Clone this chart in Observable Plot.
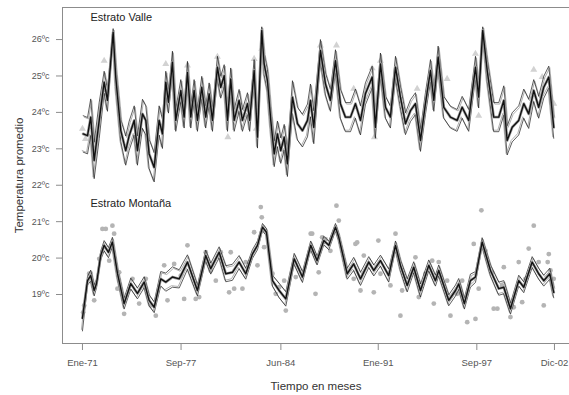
<!DOCTYPE html>
<html><head><meta charset="utf-8">
<script src="https://cdn.jsdelivr.net/npm/d3@7"></script>
<script src="https://cdn.jsdelivr.net/npm/@observablehq/plot@0.6"></script>
<style>
body{margin:0;background:#fff;}
#chart{width:569px;height:395px;}
svg{font-family:"Liberation Sans",Arial,sans-serif;}
</style></head><body><div id="chart"></div>
<script>
// months since Jan 1971
const xTickMonths = [0, 80, 161, 240, 320, 383];
const xTickLabels = ["Ene-71", "Sep-77", "Jun-84", "Ene-91", "Sep-97", "Dic-02"];
const yTicks = [19, 20, 21, 22, 23, 24, 25, 26];
const strataLabels = ["Estrato Valle", "Estrato Montaña"];
const xTitle = "Tiempo en meses";
const yTitle = "Temperatura promedio";

// Estrato Valle: smoothed estimate and its bounds
const valleMonths = [0.6,4.1,6.7,9.5,13.6,17.6,20.3,24.9,27.0,31.1,
35.1,37.9,42.0,44.6,48.7,51.4,54.1,58.2,62.2,64.9,
67.6,69.8,73.0,75.7,79.8,82.5,85.2,87.9,90.6,93.3,
96.8,100.0,102.8,105.5,109.5,112.2,115.0,117.7,120.3,123.1,
127.1,129.8,133.9,135.7,139.3,142.0,145.5,147.4,150.1,152.8,
155.6,158.2,160.9,163.7,166.3,170.4,174.5,178.5,182.6,185.0,
187.7,193.1,197.2,201.2,205.3,209.3,213.4,217.5,221.5,225.6,
229.6,235.1,237.7,241.8,245.9,249.9,254.0,258.0,262.1,266.2,
270.2,274.3,278.3,282.4,285.1,288.6,293.2,298.6,304.0,308.1,
313.4,318.9,321.5,324.8,328.4,333.7,337.8,341.9,344.6,348.7,
354.0,358.1,362.1,366.2,370.2,374.3,378.4,382.4];
const valleMean = [23.41,23.36,23.87,22.68,23.78,24.83,24.33,26.20,24.97,23.50,
22.95,23.36,23.78,22.95,23.96,23.78,22.86,22.49,23.78,23.41,
24.83,24.28,25.38,23.78,24.60,23.87,25.10,23.87,24.60,23.78,
24.69,23.87,24.51,23.78,25.24,24.69,25.01,23.78,24.92,23.78,
24.33,23.78,24.24,23.78,25.15,23.32,26.25,25.33,24.87,23.78,
22.86,23.41,22.95,23.32,22.59,24.42,23.69,23.50,23.78,24.33,
23.59,25.70,24.78,24.33,25.42,24.24,23.87,23.87,24.24,23.78,
24.51,24.97,23.59,25.33,24.14,23.87,25.24,24.42,23.69,24.05,
24.24,23.23,24.24,25.15,24.33,25.52,24.14,23.87,23.78,24.14,
23.78,25.24,24.42,26.25,25.15,23.87,23.87,24.33,23.23,23.59,
23.78,24.24,23.96,24.60,24.14,24.69,24.97,23.59];
const valleHigh = [23.91,23.86,24.37,23.18,24.28,25.13,24.63,26.30,25.27,23.80,
23.35,23.76,24.18,23.35,24.36,24.18,23.26,22.89,24.18,23.81,
25.13,24.58,25.68,24.08,24.90,24.17,25.40,24.17,24.90,24.08,
24.99,24.17,24.81,24.08,25.54,24.99,25.31,24.08,25.22,24.08,
24.63,24.08,24.54,24.08,25.45,23.62,26.35,25.63,25.17,24.08,
23.21,23.76,23.30,23.67,22.94,24.87,24.14,23.95,24.23,24.78,
24.04,26.00,25.08,24.63,25.72,24.64,24.27,24.27,24.64,24.18,
24.81,25.27,23.89,25.63,24.44,24.17,25.54,24.72,23.99,24.35,
24.54,23.53,24.54,25.45,24.63,25.82,24.44,24.17,24.08,24.44,
24.08,25.54,24.72,26.35,25.45,24.27,24.27,24.73,23.63,23.99,
24.18,24.64,24.36,24.90,24.44,24.99,25.27,23.89];
const valleLow = [22.91,22.86,23.37,22.18,23.28,24.53,24.03,26.10,24.67,23.20,
22.55,22.96,23.38,22.55,23.56,23.38,22.46,22.09,23.38,23.01,
24.53,23.98,25.08,23.48,24.30,23.57,24.80,23.57,24.30,23.48,
24.39,23.57,24.21,23.48,24.94,24.39,24.71,23.48,24.62,23.48,
24.03,23.48,23.94,23.48,24.85,23.02,26.15,25.03,24.57,23.48,
22.51,23.06,22.60,22.97,22.24,23.97,23.24,23.05,23.33,23.88,
23.14,25.40,24.48,24.03,25.12,23.84,23.47,23.47,23.84,23.38,
24.21,24.67,23.29,25.03,23.84,23.57,24.94,24.12,23.39,23.75,
23.94,22.93,23.94,24.85,24.03,25.22,23.84,23.57,23.48,23.84,
23.48,24.94,24.12,26.15,24.85,23.47,23.47,23.93,22.83,23.19,
23.38,23.84,23.56,24.30,23.84,24.39,24.67,23.29];
// Estrato Valle observations (triangles)
const valleObsMonths = [0,2.4,17.6,67.6,85.2,109.5,118.0,139.3,141.0,145.5,193.1,206.1,220.1,235.1,236.9,241.8,255.0,271.6,295.9,318.9,321.5,366.2,373.0,382.4];
const valleObsValues = [23.55,23.27,25.42,25.33,25.29,25.53,23.32,25.47,23.55,25.75,25.84,25.84,24.65,25.21,23.32,25.42,24.97,24.65,24.92,25.61,23.91,25.17,24.97,24.24];

// Estrato Montaña: smoothed estimate and its bounds
const montanaMonths = [0,4.1,6.7,9.5,11.4,14.8,17.6,21.1,24.3,28.4,
33.8,39.2,44.6,50.1,54.1,58.2,63.5,67.6,73.0,78.5,
85.2,93.3,100.0,104.1,110.9,116.3,121.7,127.1,132.5,137.9,
142.0,146.1,149.3,154.2,159.6,165.0,171.8,178.5,185.2,190.4,
195.8,199.9,205.3,208.0,214.8,220.1,225.6,232.3,236.4,241.8,
248.5,254.0,258.0,263.5,268.8,274.3,281.0,286.4,289.1,297.2,
302.7,305.3,309.9,314.8,318.9,324.3,331.1,337.8,341.9,347.3,
354.0,358.1,364.9,370.2,374.3,379.2,382.4];
const montanaMean = [18.35,19.38,19.52,19.11,19.30,20.07,20.35,20.16,20.44,19.58,
18.75,19.30,19.03,19.34,18.84,18.65,19.43,19.34,19.48,19.43,
19.89,19.11,20.07,19.71,20.16,19.57,19.61,19.89,19.57,20.11,
20.35,20.85,20.71,19.38,19.11,18.88,19.98,19.48,20.35,19.93,
20.48,20.35,20.85,20.57,19.57,19.84,19.43,19.89,19.66,19.93,
19.52,20.35,19.80,19.25,19.75,19.11,19.80,19.38,19.66,18.84,
19.11,19.29,18.75,19.38,19.48,20.44,19.66,19.16,19.20,18.61,
19.38,19.20,19.89,19.57,19.38,19.57,19.06];
const montanaHigh = [18.45,19.50,19.67,19.26,19.42,20.19,20.48,20.29,20.57,19.73,
18.90,19.45,19.18,19.49,18.99,18.80,19.63,19.59,19.76,19.68,
20.09,19.26,20.22,19.86,20.31,19.79,19.83,20.07,19.72,20.23,
20.47,20.95,20.81,19.53,19.31,19.08,20.13,19.63,20.47,20.05,
20.60,20.47,20.95,20.67,19.72,20.02,19.61,20.04,19.81,20.08,
19.70,20.47,19.95,19.43,19.90,19.29,19.95,19.53,19.81,18.99,
19.26,19.44,18.90,19.56,19.63,20.56,19.81,19.34,19.38,18.76,
19.53,19.35,20.04,19.72,19.53,19.72,19.21];
const montanaLow = [18.00,19.26,19.37,18.96,19.18,19.95,20.20,20.01,20.31,19.43,
18.60,19.15,18.88,19.19,18.69,18.50,19.23,19.09,19.20,19.18,
19.69,18.96,19.92,19.56,20.01,19.35,19.39,19.71,19.42,19.99,
20.23,20.75,20.61,19.23,18.91,18.68,19.83,19.33,20.23,19.81,
20.36,20.23,20.75,20.47,19.42,19.66,19.25,19.74,19.51,19.78,
19.34,20.23,19.65,19.07,19.60,18.93,19.65,19.23,19.51,18.69,
18.96,19.14,18.60,19.20,19.33,20.32,19.51,18.98,19.02,18.46,
19.23,19.05,19.74,19.42,19.23,19.42,18.91];
// Estrato Montaña observations (dots)
const montanaObsMonths = [0.6,1.4,5.4,6.7,9.5,16.2,18.9,24.3,25.7,13.6,21.7,29.8,28.4,33.8,40.6,46.0,51.4,55.4,59.5,66.3,
69.0,74.4,79.8,82.5,85.2,91.9,94.7,100.0,104.1,108.2,112.2,119.0,120.3,123.1,129.8,132.5,139.3,142.0,144.7,145.5,
147.4,154.2,156.8,159.6,163.7,165.0,173.1,185.2,186.4,189.1,191.7,194.5,197.2,201.2,206.1,208.0,221.5,222.9,220.1,225.6,
228.3,236.4,240.1,241.8,249.9,254.0,258.0,259.4,270.2,272.9,278.3,283.8,285.1,289.1,295.9,298.6,304.0,308.1,312.2,318.9,
317.5,321.5,323.7,327.0,332.4,333.7,336.7,340.5,341.9,347.3,349.9,354.0,356.8,359.5,362.1,366.2,370.2,374.3,377.5,378.4,
379.8,382.4];
const montanaObsValues = [18.51,18.70,19.57,19.57,18.84,20.80,20.80,20.89,20.67,19.98,19.93,19.61,19.16,18.47,19.43,18.75,19.43,18.70,18.42,19.80,
18.84,19.84,19.52,18.88,20.35,18.88,18.93,20.16,19.66,19.38,20.16,19.06,20.16,19.16,19.16,19.89,20.71,19.80,21.40,21.12,
20.30,19.57,19.02,19.20,19.38,18.56,19.48,20.67,20.67,19.02,19.61,20.57,20.52,20.20,21.44,21.03,20.39,20.43,19.43,19.11,
20.07,19.06,20.48,19.57,19.25,20.67,18.42,19.11,20.02,18.93,19.57,19.93,18.75,19.89,19.38,18.42,19.02,19.38,18.24,18.33,
20.39,19.16,21.31,20.20,19.61,18.61,18.61,19.25,19.75,18.38,18.65,19.89,18.79,19.43,20.26,20.89,19.89,18.70,19.89,20.11,
19.66,19.43];

const zip = (xs, ys) => xs.map((m, i) => ({m, v: ys[i]}));
const vMean = zip(valleMonths, valleMean), vHi = zip(valleMonths, valleHigh), vLo = zip(valleMonths, valleLow);
const mMean = zip(montanaMonths, montanaMean), mHi = zip(montanaMonths, montanaHigh), mLo = zip(montanaMonths, montanaLow);
const vObs = zip(valleObsMonths, valleObsValues), mObs = zip(montanaObsMonths, montanaObsValues);

const xDomain = [-16.2, 395.2];
const yDomain = [17.655, 26.88];
const frameColor = "#8c8c8c";

function bandLines(hi, lo) {
  const o = {x: "m", y: "v", strokeLinejoin: "round"};
  return [
    Plot.line(hi, {...o, stroke: "#b0b0b0", strokeWidth: 1, dx: 1, dy: 1.5}),
    Plot.line(lo, {...o, stroke: "#b0b0b0", strokeWidth: 1, dx: -1, dy: -1.5}),
    Plot.line(hi, {...o, stroke: "#1a1a1a", strokeWidth: 0.7}),
    Plot.line(lo, {...o, stroke: "#1a1a1a", strokeWidth: 0.7})
  ];
}
function meanLine(d) {
  const o = {x: "m", y: "v", strokeLinejoin: "round"};
  return [
    Plot.line(d, {...o, stroke: "#a0a0a0", strokeWidth: 2.8}),
    Plot.line(d, {...o, stroke: "#111", strokeWidth: 1.4})
  ];
}

const chart = Plot.plot({
  width: 569, height: 395,
  marginLeft: 62, marginRight: 0, marginTop: 7, marginBottom: 52,
  style: {fontFamily: "Liberation Sans, Arial, sans-serif", background: "#fff"},
  x: {domain: xDomain},
  y: {domain: yDomain},
  marks: [
    Plot.dot(mObs, {x: "m", y: "v", r: 2.4, fill: "#b4b4b4", stroke: "none"}),
    Plot.dot(vObs, {x: "m", y: "v", r: 2.6, symbol: "triangle", fill: "#d2d2d2", stroke: "none"}),
    ...bandLines(vHi, vLo),
    ...meanLine(vMean),
    ...bandLines(mHi, mLo),
    ...meanLine(mMean),
    Plot.ruleX([xDomain[0]], {stroke: frameColor}),
    Plot.ruleY([yDomain[0]], {stroke: frameColor}),
    Plot.ruleY([yDomain[1]], {stroke: frameColor}),
    Plot.axisY({ticks: yTicks, tickFormat: d => d + "ºc", tickSize: 6, tickPadding: 7,
      stroke: frameColor, fill: "#555", fontSize: 9, label: null}),
    Plot.axisX({ticks: xTickMonths, tickFormat: d => xTickLabels[xTickMonths.indexOf(d)],
      tickSize: 7, tickPadding: 9, stroke: frameColor, fill: "#555", fontSize: 9.5, label: null}),
    Plot.text([strataLabels[0]], {frameAnchor: "top-left", dx: 28, dy: 6, text: d => d,
      textAnchor: "start", fontSize: 11, fill: "#222"}),
    Plot.text([strataLabels[1]], {frameAnchor: "left", dx: 28, dy: 28, text: d => d,
      textAnchor: "start", fontSize: 11, fill: "#222"}),
    Plot.text([xTitle], {frameAnchor: "bottom", dy: 43, text: d => d, textAnchor: "middle",
      lineAnchor: "middle", fontSize: 11.5, fill: "#333"}),
    Plot.text([yTitle], {frameAnchor: "left", dx: -43, text: d => d, rotate: -90,
      textAnchor: "middle", lineAnchor: "middle", fontSize: 11.5, fill: "#333"})
  ]
});
document.getElementById("chart").appendChild(chart);
</script>
</body></html>
